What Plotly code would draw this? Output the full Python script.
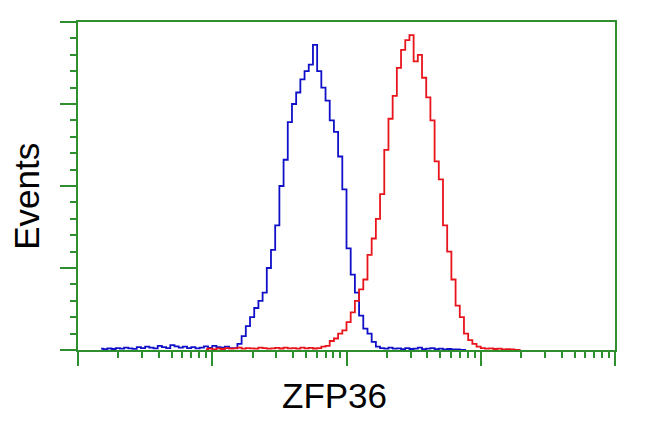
import plotly.graph_objects as go

# Histogram channels: 32 bins per decade over 4 decades (log scale)
BINS_PER_DECADE = 32

# Blue (control) counts, starting at channel 5
blue_start = 5
blue_counts = [
    0.8, 0.5, 1.0, 0.6, 1.2, 0.8, 1.5, 1.0, 0.7, 1.8,   # 5-14
    1.2, 2.0, 1.5, 1.0, 2.5, 1.8, 1.2, 3.0, 2.2, 1.5,   # 15-24
    2.0, 1.2, 1.8, 1.0, 1.5, 2.2, 1.3, 2.5, 1.8, 1.5,   # 25-34
    2.0, 1.2, 1.2, 3.7, 8.5, 14.6, 20, 25.6, 30, 35,    # 35-44
    50, 61, 76, 100, 116, 139, 150, 157, 165, 170,      # 45-54
    174, 186, 170, 160, 152, 140, 133, 118, 98, 62,     # 55-64
    46, 35, 21, 13, 10, 5, 2, 1.2, 0.8, 1.5,            # 65-74
    0.8, 1.0, 0.5, 1.2, 0.6, 0.8, 1.5, 0.5, 0.8, 1.2,   # 75-84
    0.5, 0.8, 0.4, 0.6, 0.3, 0.4, 0, 0                  # 85-92
]

# Red (ZFP36 stained) counts, starting at channel 30
red_start = 30
red_counts = [
    0.5, 0.8, 0.4, 1.0, 0.6, 1.2, 0.8, 1.0, 1.5, 0.8,   # 30-39
    1.2, 1.0, 0.8, 1.5, 1.2, 0.8, 1.0, 1.3, 0.9, 1.5,   # 40-49
    1.0, 1.2, 0.8, 1.5, 1.0, 1.3, 0.9, 1.2, 2.0, 2.5,   # 50-59
    5.5, 7, 10, 12, 17, 23, 30, 37, 43, 58,             # 60-69
    68, 80, 95, 122, 141, 155, 172, 183, 189, 192,      # 70-79
    176, 180, 166, 154, 140, 115, 104, 76, 60, 43,      # 80-89
    27, 20, 10, 6, 3.7, 2, 1.2, 0.8, 1.0, 0.6,          # 90-99
    0.8, 0.4, 0.5, 0.3, 0, 0                            # 100-105
]

major_ticks = [1, 10, 100, 1000, 10000]
minor_ticks = [m * 10 ** d for d in range(4) for m in range(2, 10)]
y_major = [0, 50, 100, 150, 200]

def xs(start, n):
    return [10 ** ((start + i + 0.5) / BINS_PER_DECADE) for i in range(n)]

GREEN = "#2f8f2f"

fig = go.Figure()
fig.add_trace(go.Scatter(
    x=xs(blue_start, len(blue_counts)), y=blue_counts, mode="lines",
    line=dict(color="#1010c8", width=1.8, shape="hvh"), showlegend=False))
fig.add_trace(go.Scatter(
    x=xs(red_start, len(red_counts)), y=red_counts, mode="lines",
    line=dict(color="#e8141c", width=1.8, shape="hvh"), showlegend=False))

# The page body has an 8px default margin, so margins are offset by 8px.
fig.update_layout(
    width=650, height=432,
    margin=dict(l=70, r=43, t=14, b=90),
    paper_bgcolor="white", plot_bgcolor="white",
    font=dict(family="Liberation Sans, Arial, sans-serif", color="black"),
    xaxis=dict(
        type="log", range=[0, 4], showgrid=False, zeroline=False,
        showline=True, linecolor=GREEN, linewidth=2, mirror=True,
        tickmode="array", tickvals=major_ticks, ticks="outside",
        ticklen=14, tickwidth=2, tickcolor=GREEN, showticklabels=False,
        minor=dict(tickmode="array", tickvals=minor_ticks, ticks="outside",
                   ticklen=6, tickwidth=2, tickcolor=GREEN, showgrid=False),
    ),
    yaxis=dict(
        range=[0, 200], showgrid=False, zeroline=False,
        showline=True, linecolor=GREEN, linewidth=2, mirror=True,
        tickmode="array", tickvals=y_major, ticks="outside",
        ticklen=16, tickwidth=2, tickcolor=GREEN, showticklabels=False,
        minor=dict(dtick=10, ticks="outside", ticklen=6, tickwidth=2,
                   tickcolor=GREEN, showgrid=False),
    ),
    annotations=[
        dict(text="ZFP36", xref="paper", yref="paper", x=0.478, y=-0.14,
             showarrow=False, xanchor="center", yanchor="middle",
             font=dict(size=35, color="black")),
        dict(text="Events", xref="paper", yref="paper", x=-0.095, y=0.47,
             showarrow=False, xanchor="center", yanchor="middle", textangle=-90,
             font=dict(size=35, color="black")),
    ],
)

fig.write_html("out.html")
